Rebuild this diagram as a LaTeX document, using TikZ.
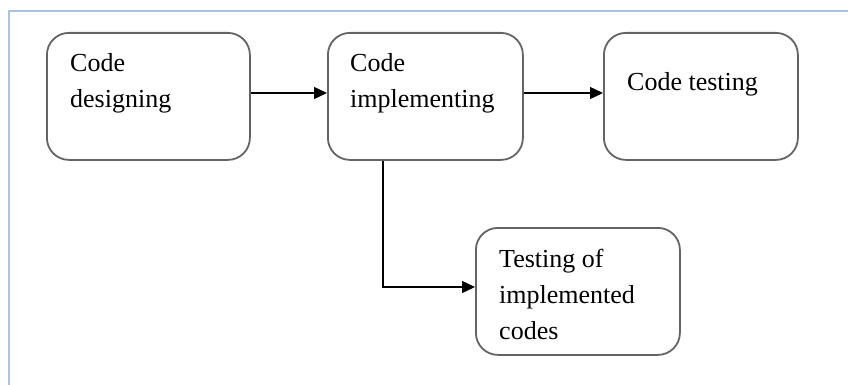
\documentclass[tikz,border=0pt]{standalone}
\usepackage{fontspec}
\setmainfont{Liberation Serif}
\usetikzlibrary{arrows.meta,calc}
\definecolor{framecol}{RGB}{170,196,228}
\definecolor{boxline}{RGB}{100,100,100}
\tikzset{
  stagebox/.style={draw=boxline, line width=1.8pt, rounded corners=22pt,
    fill=white, inner sep=0pt, anchor=north west},
  stagetext/.style={anchor=base west, align=left, inner sep=0pt,
    font=\fontsize{26}{36}\selectfont},
  flow/.style={line width=1.4pt, -{Triangle[length=13pt,width=12pt]}}
}
\begin{document}
\begin{tikzpicture}[x=1pt,y=-1pt]
  \useasboundingbox (0,0) rectangle (848,385);
  % page frame
  \draw[framecol, line width=2pt] (9,385) -- (9,11) -- (848,11);

  % stage boxes
  \node[stagebox, minimum width=203pt, minimum height=127pt] (design) at (46,32) {};
  \node[stagebox, minimum width=195pt, minimum height=127pt] (impl) at (327,32) {};
  \node[stagebox, minimum width=194pt, minimum height=127pt] (test) at (603,32) {};
  \node[stagebox, minimum width=204pt, minimum height=127pt] (verify) at (475,227) {};

  % box captions (anchored at the baseline of their last line)
  \node[stagetext] (designtxt) at (70,108) {Code\\designing};
  \node[stagetext] (impltxt) at (350,108) {Code\\implementing};
  \node[stagetext] (testtxt) at (627,91) {Code testing};
  \node[stagetext] (verifytxt) at (499,339) {Testing of\\implemented\\codes};

  % connectors
  \coordinate (bend) at (383,287);
  \draw[flow] (design.east |- 0,93) -- (impl.west |- 0,93);
  \draw[flow] (impl.east |- 0,93) -- (test.west |- 0,93);
  \draw[flow] (impl.south -| bend) -- (bend) -- (verify.west |- bend);
\end{tikzpicture}
\end{document}
